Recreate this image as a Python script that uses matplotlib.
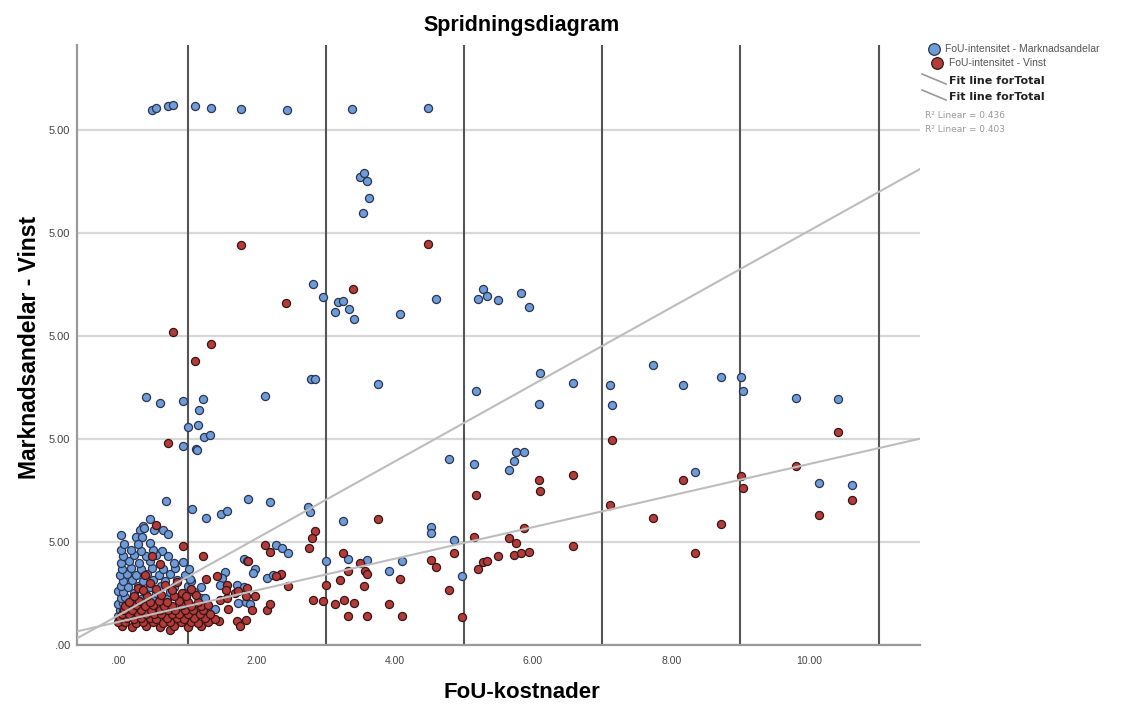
import matplotlib
matplotlib.use("Agg")
import matplotlib.pyplot as plt
import numpy as np

plt.rcParams['font.family'] = ['Liberation Sans', 'DejaVu Sans']

# ---------------- data ----------------
title = "Spridningsdiagram"
x_label = "FoU-kostnader"
y_label = "Marknadsandelar - Vinst"
series_names = ["FoU-intensitet - Marknadsandelar", "FoU-intensitet - Vinst"]
fit_names = ["Fit line forTotal", "Fit line forTotal"]
r2_texts = ["R² Linear = 0.436", "R² Linear = 0.403"]

x_ticks = [0, 2, 4, 6, 8, 10]
x_tick_labels = [".00", "2.00", "4.00", "6.00", "8.00", "10.00"]
y_ticks = [0, 5, 10, 15, 20, 25]
y_tick_labels = [".00", "5.00", "5.00", "5.00", "5.00", "5.00"]
ref_lines_x = [1, 3, 5, 7, 9, 11]

# fit lines (intercept, slope)
fit_blue = (1.44, 1.866)
fit_red = (1.12, 0.766)

blue_sparse = [
    (0.48, 25.93), (0.55, 26.06), (0.71, 26.14), (0.79, 26.17), (1.11, 26.14), (1.34, 26.06),
    (1.78, 25.98), (2.44, 25.95), (3.38, 26.01), (4.48, 26.03),
    (3.49, 22.69), (3.56, 22.89), (3.59, 22.50), (3.62, 21.68), (3.54, 20.93),
    (2.82, 17.49), (2.96, 16.87), (3.18, 16.63), (3.25, 16.67), (3.13, 16.16), (3.33, 16.30),
    (3.41, 15.82), (4.07, 16.06), (4.60, 16.79), (5.27, 17.26), (5.33, 16.95), (5.21, 16.79),
    (5.49, 16.71), (5.83, 17.05), (5.94, 16.38),
    (2.78, 12.90), (2.85, 12.90), (3.76, 12.66), (5.17, 12.31), (6.10, 13.17), (6.08, 11.71),
    (6.58, 12.69), (7.12, 12.60), (7.14, 11.63), (7.74, 13.58), (8.17, 12.63), (8.72, 13.00),
    (9.01, 13.00), (9.04, 12.32), (9.81, 11.98), (10.41, 11.95),
    (8.35, 8.41), (10.14, 7.84), (10.61, 7.74),
    (4.78, 9.02), (5.15, 8.78), (5.75, 9.36), (5.87, 9.38), (5.72, 8.91), (5.65, 8.50),
    (2.75, 6.67), (2.77, 6.43), (3.25, 6.03), (3.00, 4.09), (3.32, 4.18), (3.60, 4.10),
    (3.92, 3.60), (4.11, 4.05), (4.52, 5.74), (4.52, 5.45), (4.85, 5.11), (4.97, 3.33),
    (0.40, 12.01), (0.60, 11.76), (0.94, 11.82), (1.23, 11.92), (1.16, 11.40), (1.00, 10.57),
    (1.15, 10.66), (1.24, 10.11), (1.33, 10.20), (0.93, 9.65), (1.12, 9.50), (1.14, 9.47),
    (2.12, 12.08),
    (0.69, 7.00), (1.06, 6.61), (1.26, 6.14), (1.49, 6.35), (1.57, 6.50), (1.88, 7.06),
    (2.20, 6.95), (0.45, 6.13), (0.35, 5.75), (0.31, 5.59), (0.37, 5.67), (0.51, 5.56),
    (0.64, 5.59), (0.71, 5.38), (0.25, 5.22), (0.34, 5.23), (0.04, 5.32),
    (2.28, 4.86), (2.36, 4.70), (2.46, 4.48),
    (1.82, 4.17), (1.86, 4.09), (1.98, 3.68), (1.94, 3.50), (2.15, 3.24), (2.24, 3.40),
    (1.54, 3.52), (1.50, 3.24), (1.47, 2.92), (1.72, 2.89), (1.82, 2.79), (1.73, 2.06),
    (1.84, 2.08), (1.90, 1.98), (1.30, 1.74), (1.40, 1.74), (1.16, 2.27), (1.20, 2.27),
    (1.25, 2.27), (0.93, 4.02), (0.63, 4.55),
]

blue_cluster = [
    (0.02, 1.1), (0.08, 1.2), (0.0, 1.4), (0.05, 1.5), (0.1, 1.45),
    (0.02, 1.7), (0.07, 1.8), (0.12, 1.65), (0.0, 2.0), (0.06, 2.05), (0.15, 1.95),
    (0.03, 2.3), (0.1, 2.35), (0.2, 2.2), (0.32, 2.25), (0.5, 2.2), (0.7, 2.25), (0.9, 2.2),
    (0.0, 2.6), (0.07, 2.55), (0.22, 2.5), (0.38, 2.55), (0.55, 2.5), (0.75, 2.55), (0.95, 2.5), (1.1, 2.55),
    (0.03, 2.85), (0.14, 2.8), (0.28, 2.85), (0.45, 2.8), (0.62, 2.85), (0.8, 2.8), (1.0, 2.85), (1.2, 2.8),
    (0.06, 3.1), (0.2, 3.15), (0.35, 3.1), (0.5, 3.15), (0.68, 3.1), (0.85, 3.15), (1.05, 3.1),
    (0.02, 3.4), (0.12, 3.45), (0.26, 3.4), (0.42, 3.45), (0.58, 3.4), (0.75, 3.45), (0.96, 3.4), (1.04, 3.2),
    (0.05, 3.7), (0.18, 3.75), (0.32, 3.7), (0.48, 3.75), (0.64, 3.7), (0.82, 3.75), (1.02, 3.7),
    (0.03, 4.0), (0.15, 4.05), (0.3, 4.0), (0.45, 4.05), (0.8, 4.0),
    (0.06, 4.3), (0.22, 4.35), (0.4, 4.3), (0.55, 4.35), (0.72, 4.3),
    (0.04, 4.6), (0.18, 4.6), (0.33, 4.55), (0.5, 4.6),
    (0.08, 4.9), (0.28, 4.9), (0.45, 4.95),
]

red_sparse = [
    (1.78, 19.38), (4.48, 19.46), (2.43, 16.58), (3.39, 17.27),
    (0.79, 15.17), (1.34, 14.60), (1.11, 13.76),
    (10.41, 10.35), (7.14, 9.94), (8.17, 7.99), (9.01, 8.18), (9.04, 7.63), (9.81, 8.68),
    (10.61, 7.05), (10.14, 6.30), (7.12, 6.79), (7.74, 6.17), (8.72, 5.85), (8.35, 4.48),
    (6.08, 8.02), (6.10, 7.47), (6.58, 8.26), (5.17, 7.26),
    (2.85, 5.54), (2.80, 5.20), (2.76, 4.70), (3.76, 6.13), (2.34, 3.41), (2.45, 2.87),
    (3.25, 4.44), (3.32, 3.58), (3.50, 3.96), (3.57, 3.58), (3.60, 3.46), (3.20, 3.16),
    (4.07, 3.19), (3.00, 2.92), (3.55, 2.85), (2.82, 2.19), (2.96, 2.11), (3.14, 2.00),
    (3.26, 2.16), (3.41, 2.05), (3.92, 2.00), (3.32, 1.40), (3.60, 1.40), (4.11, 1.40),
    (4.52, 4.12), (4.60, 3.78), (4.85, 4.44), (4.78, 2.65), (4.97, 1.35), (5.15, 5.23),
    (5.27, 4.04), (5.33, 4.05), (5.21, 3.67), (5.49, 4.31), (5.65, 5.17), (5.76, 4.96),
    (5.72, 4.38), (5.83, 4.44), (5.94, 4.49), (5.87, 5.66), (6.58, 4.78),
    (0.72, 9.80), (0.54, 5.83), (0.93, 4.82), (1.23, 4.33), (0.60, 3.94), (2.12, 4.83),
    (2.19, 4.49), (1.88, 4.05), (2.35, 3.44), (2.28, 3.33), (1.42, 3.36), (1.26, 3.21),
    (1.85, 2.39), (1.98, 2.39), (2.15, 1.71), (2.19, 1.98), (1.58, 1.76), (1.71, 1.14),
    (1.84, 1.22), (1.76, 0.90), (1.36, 1.27), (1.45, 1.14), (1.57, 2.92), (1.56, 2.68),
    (1.47, 2.19), (1.57, 2.27), (1.69, 2.51), (1.73, 2.60), (1.86, 2.76), (1.93, 1.71),
    (0.38, 3.41), (0.48, 4.30), (0.29, 2.76), (0.67, 2.92), (0.92, 2.51),
    (0.75, 0.74), (1.01, 0.90),
]

red_cluster = [
    (0.05, 0.9), (0.2, 0.85), (0.4, 0.9), (0.6, 0.85), (0.8, 0.92), (1.0, 0.88), (1.2, 0.9),
    (0.0, 1.1), (0.1, 1.12), (0.25, 1.08), (0.35, 1.12), (0.5, 1.1), (0.65, 1.08), (0.75, 1.12),
    (0.9, 1.1), (1.05, 1.12), (1.15, 1.08), (1.3, 1.1),
    (0.02, 1.3), (0.12, 1.32), (0.22, 1.28), (0.32, 1.32), (0.45, 1.3), (0.55, 1.28), (0.7, 1.32),
    (0.85, 1.3), (0.95, 1.28), (1.1, 1.32), (1.25, 1.3), (1.4, 1.28),
    (0.05, 1.5), (0.15, 1.52), (0.28, 1.48), (0.4, 1.52), (0.52, 1.5), (0.62, 1.48), (0.78, 1.52),
    (0.88, 1.5), (1.0, 1.48), (1.18, 1.52), (1.32, 1.5),
    (0.08, 1.7), (0.2, 1.72), (0.33, 1.68), (0.47, 1.72), (0.6, 1.7), (0.72, 1.68), (0.82, 1.72),
    (0.96, 1.7), (1.08, 1.68), (1.22, 1.72),
    (0.1, 1.9), (0.25, 1.92), (0.38, 1.88), (0.5, 1.92), (0.66, 1.9), (0.78, 1.88), (0.92, 1.92),
    (1.05, 1.9), (1.2, 1.88), (1.3, 1.92),
    (0.15, 2.1), (0.3, 2.12), (0.45, 2.08), (0.58, 2.12), (0.7, 2.1), (0.88, 2.12), (1.0, 2.08), (1.15, 2.1),
    (0.22, 2.4), (0.42, 2.38), (0.62, 2.42), (0.8, 2.4), (0.98, 2.38), (1.12, 2.42),
    (0.35, 2.65), (0.55, 2.7), (0.78, 2.65), (1.05, 2.7),
    (0.45, 3.0), (0.85, 3.05),
]

# ---------------- figure ----------------
W, H = 1131, 705
fig = plt.figure(figsize=(W / 100, H / 100), dpi=100)
fig.patch.set_facecolor("white")

ax_l, ax_r, ax_t, ax_b = 77, 920, 45, 645
ax = fig.add_axes([ax_l / W, 1 - ax_b / H, (ax_r - ax_l) / W, (ax_b - ax_t) / H])
ax.set_xlim(-0.6, 11.6)
ax.set_ylim(0, 29.1)

ax.set_yticks(y_ticks)
ax.set_yticklabels(y_tick_labels)
ax.set_xticks(x_ticks)
ax.set_xticklabels(x_tick_labels)
ax.tick_params(axis="both", length=0, labelsize=7.5, labelcolor="#444444")
ax.tick_params(axis="y", labelsize=8)
ax.tick_params(axis="x", pad=8)
ax.tick_params(axis="y", pad=5)

for s in ["top", "right"]:
    ax.spines[s].set_visible(False)
for s in ["left", "bottom"]:
    ax.spines[s].set_color("#9a9a9a")
    ax.spines[s].set_linewidth(1.6)

ax.yaxis.grid(True, color="#d8d8d8", linewidth=1.6)
ax.set_axisbelow(True)
for xv in ref_lines_x:
    ax.axvline(xv, color="#555555", linewidth=1.5, zorder=1)

bx = [p[0] for p in blue_sparse + blue_cluster]
by = [p[1] for p in blue_sparse + blue_cluster]
rx = [p[0] for p in red_sparse + red_cluster]
ry = [p[1] for p in red_sparse + red_cluster]

blue_fc = "#6f9bd8"
red_fc = "#b23b3b"
ax.scatter(bx, by, s=34, facecolor=blue_fc, edgecolor="#2a3550", linewidth=0.9, zorder=3)
ax.scatter(rx, ry, s=34, facecolor=red_fc, edgecolor="#3a1515", linewidth=0.9, zorder=4)

xx = np.array(ax.get_xlim())
ax.plot(xx, fit_blue[0] + fit_blue[1] * xx, color="#bdbdbd", linewidth=1.5, zorder=5)
ax.plot(xx, fit_red[0] + fit_red[1] * xx, color="#bdbdbd", linewidth=1.5, zorder=5)

# titles
fig.text(522 / W, 1 - 26 / H, title, ha="center", va="center", fontsize=15.5, fontweight="bold")
fig.text(522 / W, 1 - 692 / H, x_label, ha="center", va="center", fontsize=16, fontweight="bold")
fig.text(30 / W, 1 - 347 / H, y_label, ha="center", va="center", rotation=90,
         fontsize=16.5, fontweight="bold")

# legend in pixel coordinates
lg = fig.add_axes([0, 0, 1, 1], facecolor="none")
lg.set_xlim(0, W)
lg.set_ylim(H, 0)
lg.axis("off")
lg.scatter([934], [49], s=70, facecolor=blue_fc, edgecolor="#2a3550", linewidth=0.9)
lg.scatter([937], [63], s=70, facecolor=red_fc, edgecolor="#3a1515", linewidth=0.9)
lg.text(945, 49, series_names[0], fontsize=7.5, color="#555555", va="center", ha="left")
lg.text(949, 63, series_names[1], fontsize=7.5, color="#555555", va="center", ha="left")
lg.plot([922, 946], [74, 84], color="#9a9a9a", linewidth=1.2)
lg.plot([922, 946], [90, 100], color="#9a9a9a", linewidth=1.2)
lg.text(949, 81, fit_names[0], fontsize=8, color="#222222", va="center", ha="left", fontweight="bold",
        family=["DejaVu Sans"])
lg.text(949, 97, fit_names[1], fontsize=8, color="#222222", va="center", ha="left", fontweight="bold",
        family=["DejaVu Sans"])
lg.text(925, 116, r2_texts[0], fontsize=6.5, color="#999999", va="center", ha="left",
        family=["DejaVu Sans"])
lg.text(925, 129, r2_texts[1], fontsize=6.5, color="#999999", va="center", ha="left",
        family=["DejaVu Sans"])

fig.savefig("out.png", dpi=100, facecolor="white")
